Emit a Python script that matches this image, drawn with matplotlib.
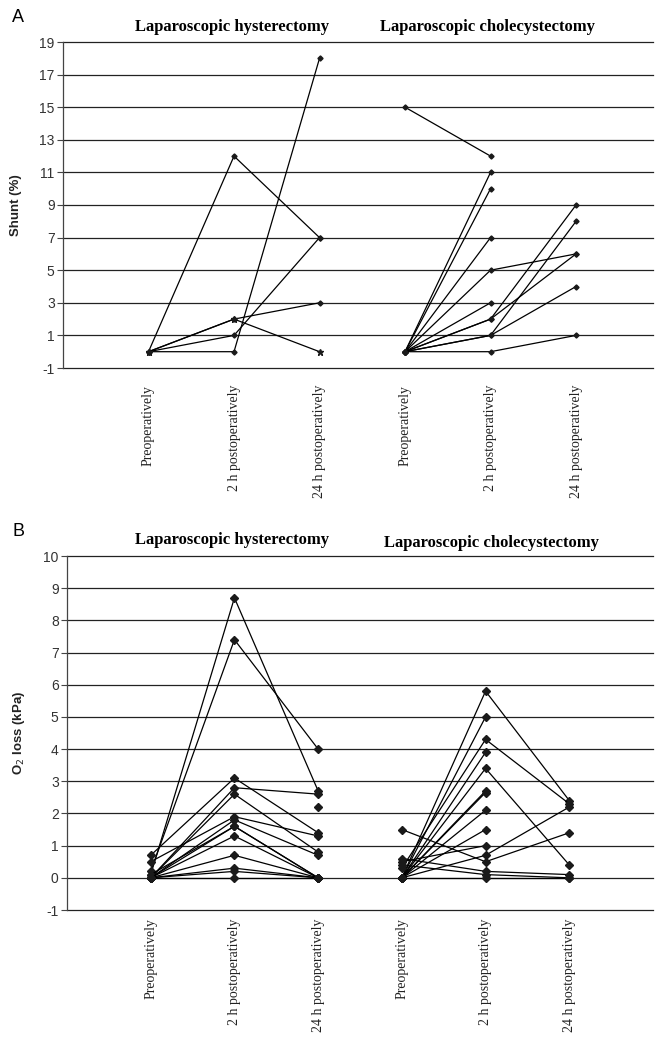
import numpy as np
import matplotlib
matplotlib.use("Agg")
import matplotlib.pyplot as plt

nan = np.nan
time_labels = ["Preoperatively", "2 h postoperatively", "24 h postoperatively"]
groups = ["Laparoscopic hysterectomy", "Laparoscopic cholecystectomy"]

# Panel A: shunt (%) per patient (pre, 2h, 24h)
shunt_hyst = [
    [0, 12, 7],
    [0, 0, 18],
    [0, 1, 7],
    [0, 2, 3],
]
shunt_hyst_star = [
    [0, 2, 0],
]
shunt_chole = [
    [15, 12, nan],
    [0, 11, nan],
    [0, 10, nan],
    [0, 7, nan],
    [0, 5, 6],
    [0, 3, nan],
    [0, 2, 9],
    [0, 2, 6],
    [0, 1, 8],
    [0, 1, 4],
    [0, 0, 1],
]

# Panel B: O2 loss (kPa)
o2_hyst = [
    [0.1, 8.7, 2.7],
    [0.2, 7.4, 4.0],
    [0.7, 3.1, 1.4],
    [0.0, 2.8, 2.6],
    [0.0, 2.6, 0.8],
    [0.5, 1.9, 1.3],
    [0.0, 1.8, 0.7],
    [0.1, 1.6, 0.0],
    [0.0, 1.6, 0.0],
    [0.0, 1.3, 0.0],
    [0.0, 0.7, 0.0],
    [0.0, 0.3, 0.0],
    [0.0, 0.2, 0.0],
    [0.0, 0.0, 0.0],
    [nan, nan, 2.2],
]
o2_chole = [
    [0.0, 5.8, 2.4],
    [0.0, 5.0, nan],
    [0.3, 4.3, 2.3],
    [0.0, 3.9, nan],
    [0.0, 3.4, 0.4],
    [0.0, 2.7, nan],
    [0.0, 2.65, nan],
    [0.0, 2.1, nan],
    [0.0, 1.5, nan],
    [0.5, 1.0, nan],
    [0.0, 0.7, 2.2],
    [1.5, 0.5, 1.4],
    [0.6, 0.2, 0.1],
    [0.4, 0.1, 0.0],
    [0.0, 0.0, 0.0],
]

W, H = 660, 1042
fig = plt.figure(figsize=(W / 100, H / 100), dpi=100)

def ax_rect(l, t, r, b):
    return [l / W, 1 - b / H, (r - l) / W, (b - t) / H]

serif = ["Liberation Serif", "DejaVu Serif"]
sans = ["Liberation Sans", "DejaVu Sans"]

def setup(ax, ymin, ymax, step, xmax, ylabel, xpad):
    ax.set_xlim(0, xmax)
    ax.set_ylim(ymin, ymax)
    yt = np.arange(ymin, ymax + 0.01, step)
    ax.set_yticks(yt)
    ax.set_yticklabels([f"{int(v)}" for v in yt], family=sans, fontsize=10, color="#333333")
    for v in yt:
        ax.axhline(v, color="#222222", lw=0.9, zorder=1, clip_on=False)
    for s in ["top", "right", "bottom"]:
        ax.spines[s].set_visible(False)
    ax.spines["left"].set_color("#444444")
    ax.spines["left"].set_linewidth(0.9)
    ax.tick_params(axis="y", direction="out", length=4, width=0.8, color="#444444", pad=2)
    ax.set_xticks(range(1, 7))
    ax.set_xticklabels(time_labels * 2, rotation=90, family=serif, fontsize=10,
                       va="top", ha="center", color="#222222")
    ax.tick_params(axis="x", length=0, pad=xpad)
    ax.set_ylabel(ylabel, family=sans, fontsize=9.5, fontweight="bold", color="#222222")

def draw(ax, data, offset, marker="D", ms=3.0):
    x = np.arange(3) + 1 + offset
    for row in data:
        y = np.array(row, dtype=float)
        ax.plot(x, y, color="black", lw=0.9, marker=marker, ms=ms,
                mfc="#1a1a1a", mec="#1a1a1a", zorder=3, clip_on=False)

# Panel A
axA = fig.add_axes(ax_rect(63, 42, 653, 368))
setup(axA, -1, 19, 2, 6.9, "Shunt (%)", 12)
draw(axA, shunt_hyst, 0, "D", 2.6)
draw(axA, shunt_hyst_star, 0, "*", 5)
draw(axA, shunt_chole, 3, "D", 2.6)
axA.yaxis.set_label_coords(-0.07, 0.5)
fig.text(232 / W, 1 - 27 / H, groups[0], ha="center", va="center", family=serif,
         fontsize=12, fontweight="bold")
fig.text(488 / W, 1 - 27 / H, groups[1], ha="center", va="center", family=serif,
         fontsize=12, fontweight="bold")
fig.text(12 / W, 1 - 18 / H, "A", family=sans, fontsize=13, va="center", ha="left")

# Panel B
axB = fig.add_axes(ax_rect(67, 556, 653, 910))
setup(axB, -1, 10, 1, 7.0, "O$_2$ loss (kPa)", 6)
draw(axB, o2_hyst, 0, "D", 4.2)
draw(axB, o2_chole, 3, "D", 4.2)
axB.yaxis.set_label_coords(-0.068, 0.5)
fig.text(232 / W, 1 - 540 / H, groups[0], ha="center", va="center", family=serif,
         fontsize=12, fontweight="bold")
fig.text(492 / W, 1 - 543 / H, groups[1], ha="center", va="center", family=serif,
         fontsize=12, fontweight="bold")
fig.text(12 / W, 1 - 532 / H, "B", family=sans, fontsize=13, va="center", ha="left")

fig.savefig("out.png", dpi=100)
